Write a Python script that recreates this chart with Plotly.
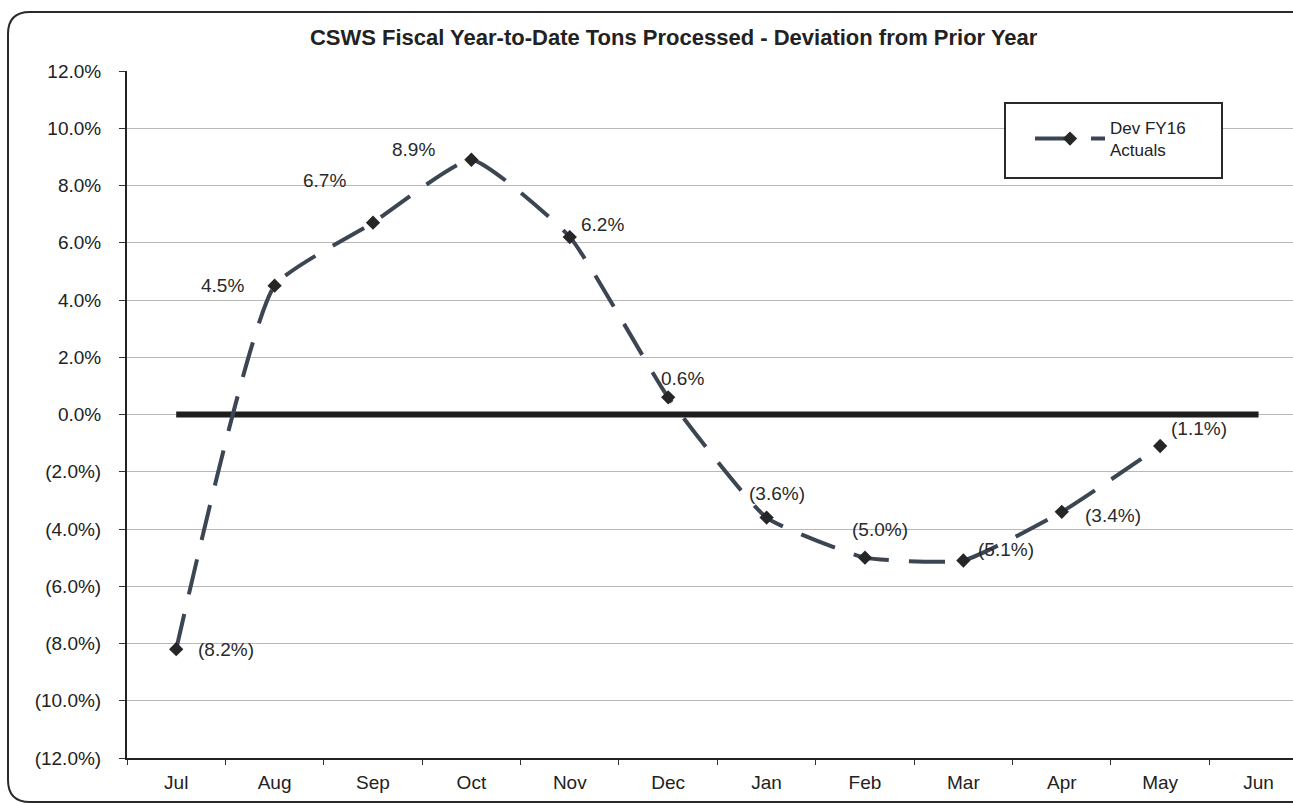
import plotly.graph_objects as go

# data
months = ["Jul", "Aug", "Sep", "Oct", "Nov", "Dec",
          "Jan", "Feb", "Mar", "Apr", "May", "Jun"]
dev_fy16 = [-8.2, 4.5, 6.7, 8.9, 6.2, 0.6, -3.6, -5.0, -5.1, -3.4, -1.1]
baseline = [0.0] * 12
y_ticks = [12, 10, 8, 6, 4, 2, 0, -2, -4, -6, -8, -10, -12]

# pixel shift of each data label from its point (dx, dy up)
label_shift = [(50, 0), (-52, 0), (-48, 42), (-58, 10), (33, 13), (14, 19),
               (10, 24), (15, 28), (43, 11), (51, -4), (39, 17)]


def pct(v):
    return f"{v:.1f}%" if v >= 0 else f"({abs(v):.1f}%)"


font = "Liberation Sans, Arial, sans-serif"

# plot area in pixels, used to place the outer frame
px0, px1, py0, py1 = 127, 1293, 71, 758


def fx(p):
    return (p - px0) / (px1 - px0)


def fy(p):
    return (py1 - p) / (py1 - py0)


fig = go.Figure()

fig.add_trace(go.Scatter(
    x=months, y=baseline,
    mode="lines",
    line=dict(color="#1e1e1e", width=6),
    showlegend=False,
    hoverinfo="skip",
))

fig.add_trace(go.Scatter(
    x=months[:len(dev_fy16)], y=dev_fy16,
    mode="lines+markers",
    line=dict(color="#3b4652", width=4, dash="36px,20px",
              shape="spline", smoothing=0.45),
    marker=dict(symbol="diamond", size=11, color="#262626"),
    name="Dev FY16<br>Actuals",
))

for m, v, (dx, dy) in zip(months, dev_fy16, label_shift):
    fig.add_annotation(x=m, y=v, text=pct(v), showarrow=False,
                       xshift=dx, yshift=dy,
                       font=dict(size=19, color="#2a2a2a"))

# outer rounded frame
r = 22
frame = (
    f"M {fx(8)},{fy(12 + r)} Q {fx(8)},{fy(12)} {fx(8 + r)},{fy(12)} "
    f"L {fx(1300)},{fy(12)} L {fx(1300)},{fy(802)} "
    f"L {fx(8 + r)},{fy(802)} Q {fx(8)},{fy(802)} {fx(8)},{fy(802 - r)} Z"
)
fig.add_shape(type="path", path=frame, xref="paper", yref="paper",
              line=dict(color="#2a2a2a", width=2), layer="below")

# legend box
fig.add_shape(type="rect", xref="paper", yref="paper",
              x0=fx(1005), x1=fx(1222), y0=fy(178), y1=fy(103),
              line=dict(color="#2a2a2a", width=2), fillcolor="white")

fig.update_layout(
    width=1293, height=804,
    margin=dict(l=px0, r=0, t=py0, b=804 - py1),
    paper_bgcolor="white",
    plot_bgcolor="white",
    font=dict(family=font, size=19, color="#222"),
    title=dict(
        text="<b>CSWS Fiscal Year-to-Date Tons Processed - Deviation from Prior Year</b>",
        x=0.521, xanchor="center", y=0.953, yanchor="middle",
        font=dict(size=22, color="#222"),
    ),
    legend=dict(
        x=fx(1030), y=fy(110), xanchor="left", yanchor="top",
        bgcolor="rgba(0,0,0,0)", borderwidth=0,
        font=dict(size=17, color="#222"),
        itemwidth=70,
    ),
    xaxis=dict(
        type="category",
        range=[-0.5, 11.35],
        showgrid=False,
        tickson="boundaries",
        ticks="outside", ticklen=5, tickcolor="#333",
        ticklabelstandoff=6,
        showline=True, linecolor="#222", linewidth=2,
        tickfont=dict(size=19, color="#222"),
        zeroline=False,
    ),
    yaxis=dict(
        range=[-12, 12],
        tickvals=y_ticks,
        ticktext=[pct(v) for v in y_ticks],
        showgrid=True, gridcolor="#b8b8b8", gridwidth=1,
        ticks="outside", ticklen=6, tickcolor="#333",
        ticklabelstandoff=14,
        showline=True, linecolor="#222", linewidth=2,
        tickfont=dict(size=19, color="#222"),
        zeroline=False,
    ),
)

fig.write_html("out.html", config={"displayModeBar": False},
               post_script="document.body.style.margin='0';")
